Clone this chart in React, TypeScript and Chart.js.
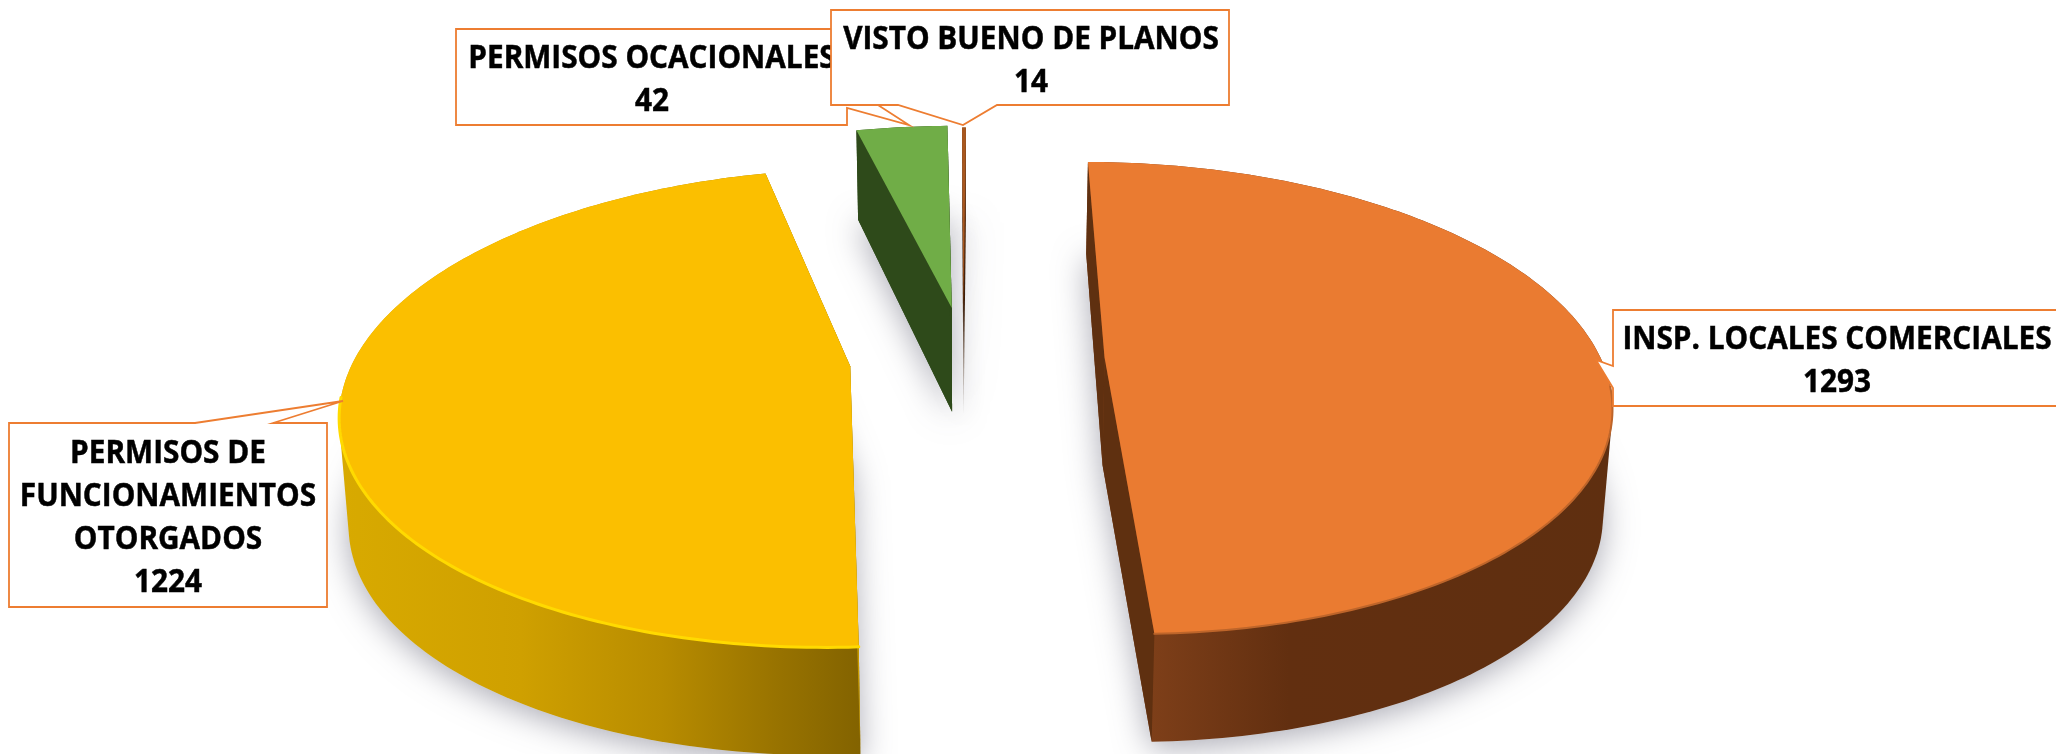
import React, { useEffect, useRef } from "react";
import { Chart, registerables } from "chart.js";

Chart.register(...registerables);

const categories = [
  "INSP. LOCALES COMERCIALES",
  "PERMISOS DE FUNCIONAMIENTOS OTORGADOS",
  "PERMISOS OCACIONALES",
  "VISTO BUENO DE PLANOS",
];
const values = [1293, 1224, 42, 14];
const labelLines = [
  ["INSP. LOCALES COMERCIALES"],
  ["PERMISOS DE", "FUNCIONAMIENTOS", "OTORGADOS"],
  ["PERMISOS OCACIONALES"],
  ["VISTO BUENO DE PLANOS"],
];

// explosion of each slice, px on the untilted disc
const sliceOffsets = [62, 56, 55, 52];
const offsetDirShiftDeg = [0, 0, -1.8, 0];
// the source picture draws slices slightly off their share
const angleStretch = [0.981, 0.989, 2.18, 0.27];
const angleShiftDeg = [1.7, -2.07, 0.5, 3.9];

const topColors = ["#EA7B31", "#FBBF00", "#70AD47", "#A9581F"];
const radialWallColors = ["#5F3010", "#C79A00", "#2E4A1A", "#3A1C08"];
const outerWallStops = [
  [[0, "#7E3F19"], [0.3, "#622F10"], [1, "#5F2F10"]],
  [[0, "#D8AA00"], [0.35, "#CFA000"], [0.62, "#B88C00"], [0.85, "#977200"], [1, "#836300"]],
  [[0, "#2E4A1A"], [1, "#2E4A1A"]],
  [[0, "#7A3D14"], [0.6, "#3A1C08"], [1, "#D9D6D3"]],
];
const rimColors = ["#BE652A", "#FFDA00", "#70AD47", "#A9581F"];

// draw order, back to front
const paintOrder = [3, 2, 1, 0];

// callouts: outline vertices and text anchor
const calloutOutlines = [
  [[456, 29], [847, 29], [847, 85], [909, 125], [847, 108], [847, 125], [456, 125]],
  [[831, 10], [1229, 10], [1229, 105], [997, 105], [963, 125], [898, 105], [831, 105]],
  [[1613, 310], [2060, 310], [2060, 406], [1613, 406], [1613, 388], [1596, 360], [1613, 366]],
  [[9, 423], [195, 423], [343, 401], [273, 423], [327, 423], [327, 607], [9, 607]],
];
const calloutSlices = [2, 3, 0, 1];
const calloutTextX = [652, 1031, 1837, 168];
const calloutTextY = [59, 40, 340, 454];
const lineStep = 43;
const textSqueeze = 0.93;

const TILT_K = 0.173;
const STRETCH_X = 2.16;
const DEPTH = 108;

type P = [number, number];

const convexHull = (pts: P[]): P[] => {
  const s = [...pts].sort((a, b) => a[0] - b[0] || a[1] - b[1]);
  const cross = (o: P, a: P, b: P) => (a[0] - o[0]) * (b[1] - o[1]) - (a[1] - o[1]) * (b[0] - o[0]);
  const lower: P[] = [];
  for (const p of s) {
    while (lower.length >= 2 && cross(lower[lower.length - 2], lower[lower.length - 1], p) <= 0) lower.pop();
    lower.push(p);
  }
  const upper: P[] = [];
  for (let i = s.length - 1; i >= 0; i--) {
    const p = s[i];
    while (upper.length >= 2 && cross(upper[upper.length - 2], upper[upper.length - 1], p) <= 0) upper.pop();
    upper.push(p);
  }
  return lower.slice(0, -1).concat(upper.slice(0, -1));
};

const pie3d = {
  id: "pie3d",
  beforeDatasetDraw(chart: any) {
    const ctx = chart.ctx;
    const meta = chart.getDatasetMeta(0);
    const slices = meta.data.map((el: any, i: number) => {
      const { x, y, startAngle, endAngle, outerRadius } = el.getProps(
        ["x", "y", "startAngle", "endAngle", "outerRadius"],
        true
      );
      const R = outerRadius;
      const mid0 = (startAngle + endAngle) / 2;
      const off = el.options.offset || 0;
      const dir = mid0 + (offsetDirShiftDeg[i] * Math.PI) / 180;
      const ox = Math.cos(dir) * off;
      const oy = Math.sin(dir) * off;
      const half = ((endAngle - startAngle) / 2) * angleStretch[i];
      const mid = mid0 + (angleShiftDeg[i] * Math.PI) / 180;
      const a0 = mid - half;
      const a1 = mid + half;
      const w = (py: number) => 1 / (1 - (TILT_K * py) / R);
      const top = (px: number, py: number): P => {
        const k = w(py);
        return [x + px * STRETCH_X * k, y + py * k];
      };
      const bottom = (px: number, py: number): P => {
        const k = w(py);
        const p = top(px, py);
        return [x + (p[0] - x) * 0.985, p[1] + DEPTH * Math.min(1, k)];
      };
      const n = Math.max(4, Math.ceil(((a1 - a0) * 180) / Math.PI));
      const arcPts: P[] = [];
      for (let s = 0; s <= n; s++) {
        const a = a0 + ((a1 - a0) * s) / n;
        arcPts.push([ox + Math.cos(a) * R, oy + Math.sin(a) * R]);
      }
      return { i, x, top, bottom, apex: [ox, oy] as P, arcPts, R };
    });

    const poly = (pts: P[]) => {
      ctx.beginPath();
      pts.forEach((p, idx) => (idx ? ctx.lineTo(p[0], p[1]) : ctx.moveTo(p[0], p[1])));
      ctx.closePath();
    };

    // soft shadow under every slice
    ctx.save();
    slices.forEach((s: any) => {
      const pts: P[] = [s.apex, ...s.arcPts].map((p: P) => s.bottom(p[0], p[1]));
      ctx.shadowColor = "rgba(85,85,105,0.5)";
      ctx.shadowBlur = 32;
      ctx.shadowOffsetY = 6;
      ctx.fillStyle = "#dddddd";
      poly(pts);
      ctx.fill();
    });
    ctx.restore();

    paintOrder.forEach((idx) => {
      const s = slices[idx];
      const i = s.i;
      const first = s.arcPts[0];
      const last = s.arcPts[s.arcPts.length - 1];
      const quad = (a: P, b: P) =>
        poly([s.top(a[0], a[1]), s.top(b[0], b[1]), s.bottom(b[0], b[1]), s.bottom(a[0], a[1])]);

      // silhouette of the whole prism carries the outer wall shading
      const topArc: P[] = s.arcPts.map((p: P) => s.top(p[0], p[1]));
      const botArc: P[] = s.arcPts.map((p: P) => s.bottom(p[0], p[1]));
      const apexTop: P = s.top(s.apex[0], s.apex[1]);
      const apexBottom: P = s.bottom(s.apex[0], s.apex[1]);
      const hull = convexHull([...topArc, ...botArc, apexTop, apexBottom]);
      const xs = topArc.map((p: P) => p[0]);
      const ys = hull.map((p: P) => p[1]);
      const grad =
        i === 3
          ? ctx.createLinearGradient(0, Math.min(...ys), 0, Math.max(...ys))
          : ctx.createLinearGradient(i === 0 ? 1150 : Math.min(...xs), 0, Math.max(...xs), 0);
      outerWallStops[i].forEach((st: any) => grad.addColorStop(st[0], st[1]));
      ctx.fillStyle = grad;
      poly(hull);
      ctx.fill();

      // radial walls
      if (i !== 3) {
        ctx.fillStyle = radialWallColors[i];
        quad(s.apex, first);
        ctx.fill();
        quad(s.apex, last);
        ctx.fill();
      }

      // top face
      ctx.fillStyle = topColors[i];
      poly([apexTop, ...topArc]);
      ctx.fill();

      // bevel along the near rim
      const rim = s.arcPts.filter((p: P) => p[1] - s.apex[1] > 0.12 * s.R);
      if (rim.length > 1 && i < 2) {
        ctx.strokeStyle = rimColors[i];
        ctx.lineWidth = i === 1 ? 3 : 2;
        ctx.lineCap = "round";
        ctx.beginPath();
        rim.forEach((p: P, k: number) => {
          const q = s.top(p[0], p[1]);
          k ? ctx.lineTo(q[0], q[1]) : ctx.moveTo(q[0], q[1]);
        });
        ctx.stroke();
      }
    });

    return false;
  },
  afterDatasetsDraw(chart: any) {
    const ctx = chart.ctx;
    const data = chart.data.datasets[0].data;
    ctx.save();
    calloutOutlines.forEach((outline, c) => {
      const sliceIndex = calloutSlices[c];
      ctx.beginPath();
      outline.forEach((p, k) => (k ? ctx.lineTo(p[0], p[1]) : ctx.moveTo(p[0], p[1])));
      ctx.closePath();
      ctx.fillStyle = "#FFFFFF";
      ctx.fill();
      ctx.strokeStyle = "#ED7D31";
      ctx.lineWidth = 1.8;
      ctx.lineJoin = "miter";
      ctx.stroke();
      ctx.fillStyle = "#000000";
      ctx.strokeStyle = "#000000";
      ctx.lineWidth = 0.5;
      ctx.font = 'bold 32px "Open Sans"';
      ctx.textAlign = "center";
      ctx.textBaseline = "middle";
      const lines = [...labelLines[sliceIndex], String(data[sliceIndex])];
      lines.forEach((t, k) => {
        const width = ctx.measureText(t).width * textSqueeze;
        ctx.fillText(t, calloutTextX[c], calloutTextY[c] + k * lineStep, width);
        ctx.strokeText(t, calloutTextX[c], calloutTextY[c] + k * lineStep, width);
      });
    });
    ctx.restore();
  },
};

export default function App() {
  const ref = useRef<HTMLCanvasElement>(null);
  useEffect(() => {
    const chart = new Chart(ref.current as HTMLCanvasElement, {
      type: "pie",
      plugins: [pie3d],
      data: {
        labels: categories,
        datasets: [{ data: values, backgroundColor: topColors, offset: sliceOffsets, borderWidth: 0 }],
      },
      options: {
        animation: false,
        responsive: false,
        devicePixelRatio: 1,
        rotation: -3,
        radius: 230,
        layout: { padding: { right: 114, bottom: 34 } },
        plugins: { legend: { display: false }, tooltip: { enabled: false } },
        events: [],
      },
    } as any);
    return () => chart.destroy();
  }, []);
  return (
    <div style={{ position: "absolute", left: 0, top: 0, width: 2056, height: 754, overflow: "hidden", background: "#fff" }}>
      <canvas ref={ref} width={2056} height={754} style={{ display: "block" }} />
    </div>
  );
}
